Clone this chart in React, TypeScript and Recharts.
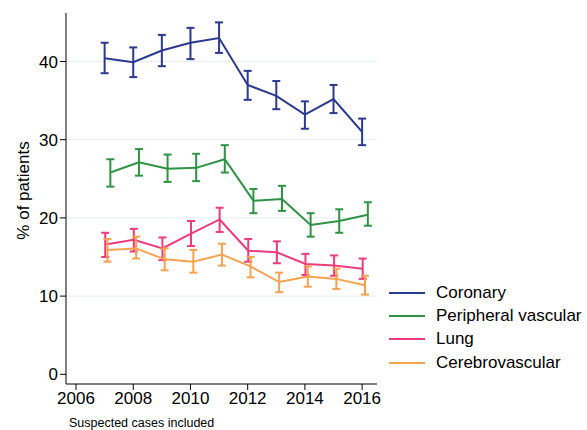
import { ComposedChart, Line, ErrorBar, XAxis, YAxis, CartesianGrid } from 'recharts';

const years = [2007, 2008, 2009, 2010, 2011, 2012, 2013, 2014, 2015, 2016];

const coronary = [40.4, 39.9, 41.4, 42.4, 43.0, 37.0, 35.6, 33.2, 35.2, 31.0];
const coronaryLo = [38.5, 38.0, 39.4, 40.3, 41.1, 35.1, 33.9, 31.4, 33.4, 29.3];
const coronaryHi = [42.4, 41.8, 43.4, 44.3, 45.0, 38.8, 37.5, 34.9, 37.0, 32.7];

const peripheral = [25.8, 27.1, 26.3, 26.4, 27.5, 22.2, 22.4, 19.1, 19.6, 20.4];
const peripheralLo = [24.0, 25.4, 24.6, 24.7, 25.8, 20.6, 20.9, 17.6, 18.1, 19.0];
const peripheralHi = [27.5, 28.8, 28.1, 28.2, 29.3, 23.7, 24.1, 20.6, 21.1, 22.0];

const lung = [16.6, 17.2, 16.1, 18.0, 19.8, 15.8, 15.6, 14.1, 13.9, 13.5];
const lungLo = [15.0, 15.7, 14.6, 16.4, 18.2, 14.4, 14.2, 12.7, 12.6, 12.2];
const lungHi = [18.1, 18.6, 17.5, 19.6, 21.3, 17.3, 17.0, 15.4, 15.2, 14.8];

const cerebro = [15.9, 16.1, 14.7, 14.4, 15.3, 13.8, 11.8, 12.5, 12.2, 11.4];
const cerebroLo = [14.4, 14.8, 13.3, 13.0, 13.9, 12.4, 10.5, 11.2, 10.9, 10.2];
const cerebroHi = [17.3, 17.6, 16.1, 15.9, 16.7, 15.0, 13.0, 13.8, 13.5, 12.6];

const xTicks = [2006, 2008, 2010, 2012, 2014, 2016];
const yTicks = [0, 10, 20, 30, 40];

const FONT = 'Arial, "Liberation Sans", Helvetica, sans-serif';

// small horizontal jitter so the error bars don't sit on top of each other
const series = [
  { name: 'Coronary', color: '#2b3990', shift: 0, y: coronary, lo: coronaryLo, hi: coronaryHi },
  { name: 'Peripheral vascular', color: '#2e9444', shift: 0.2, y: peripheral, lo: peripheralLo, hi: peripheralHi },
  { name: 'Lung', color: '#ec3c7e', shift: 0.02, y: lung, lo: lungLo, hi: lungHi },
  { name: 'Cerebrovascular', color: '#f7a24f', shift: 0.1, y: cerebro, lo: cerebroLo, hi: cerebroHi },
];

const build = (s: (typeof series)[number]) =>
  years.map((yr, i) => ({
    x: yr + s.shift,
    y: s.y[i],
    err: [s.y[i] - s.lo[i], s.hi[i] - s.y[i]],
  }));

const tickStyle = { fill: '#000', fontSize: 17, fontFamily: FONT };

const YLabel = () => (
  <text
    transform="translate(29, 190.5) rotate(-90)"
    textAnchor="middle"
    fill="#000"
    fontSize={17}
    fontFamily={FONT}
  >
    % of patients
  </text>
);

export default function App() {
  return (
    <div style={{ position: 'absolute', left: 0, top: 0, width: 587, height: 430, background: '#fff' }}>
      <ComposedChart
        width={587}
        height={430}
        margin={{ top: 13, right: 210, bottom: 16, left: 0 }}
        style={{ fontSize: 17, fontFamily: FONT }}
      >
        <CartesianGrid horizontal vertical={false} horizontalValues={[10, 20, 30, 40]} stroke="#e6eef0" />
        <XAxis
          type="number"
          dataKey="x"
          domain={[2005.65, 2016.52]}
          ticks={xTicks}
          allowDataOverflow
          height={30}
          stroke="#000"
          tickSize={6}
          fontSize={17}
          tick={tickStyle}
        />
        <YAxis
          type="number"
          domain={[-1.24, 46.2]}
          ticks={yTicks}
          allowDataOverflow
          width={66}
          stroke="#000"
          tickSize={6}
          fontSize={17}
          tick={tickStyle}
          label={<YLabel />}
        />
        {series.map((s) => (
          <Line
            key={s.name}
            data={build(s)}
            dataKey="y"
            name={s.name}
            stroke={s.color}
            strokeWidth={2}
            dot={false}
            isAnimationActive={false}
          >
            <ErrorBar dataKey="err" direction="y" width={4} stroke={s.color} strokeWidth={2} isAnimationActive={false} />
          </Line>
        ))}
      </ComposedChart>
      <div style={{ position: 'absolute', left: 389, top: 281, fontFamily: FONT, fontSize: 17, color: '#000' }}>
        {series.map((s) => (
          <div key={s.name} style={{ display: 'flex', alignItems: 'center', height: 23.3 }}>
            <div style={{ width: 36, height: 2, background: s.color, marginRight: 11 }} />
            <span>{s.name}</span>
          </div>
        ))}
      </div>
      <div style={{ position: 'absolute', left: 69, top: 416, fontFamily: FONT, fontSize: 12.5, color: '#000' }}>
        Suspected cases included
      </div>
    </div>
  );
}
